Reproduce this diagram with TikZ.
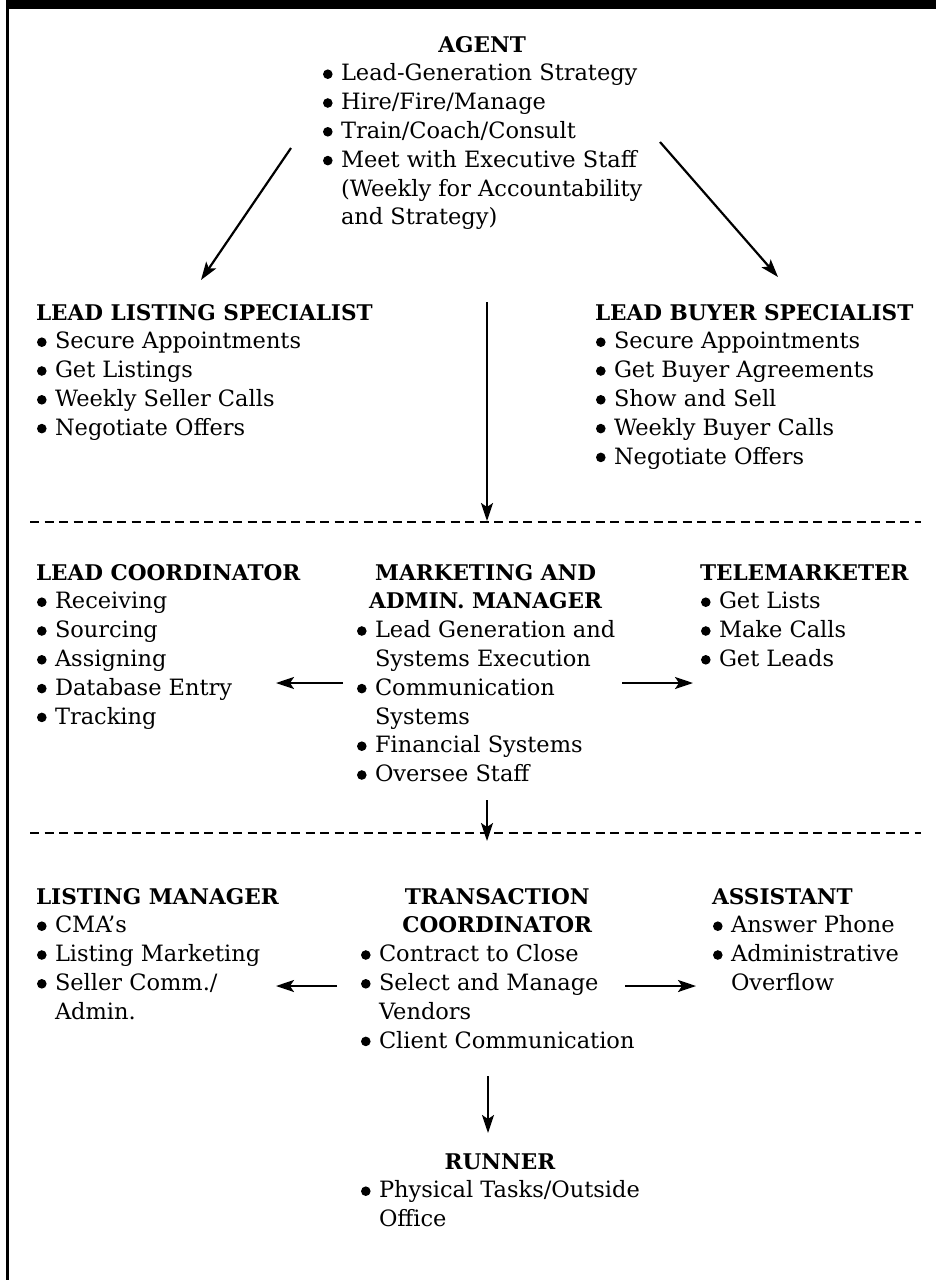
\documentclass[tikz,border=0pt]{standalone}
\usepackage{fontspec}
\setmainfont{DejaVu Serif}
\usetikzlibrary{arrows.meta}
\newcommand{\hd}[1]{{\fontsize{21.6}{28.8}\selectfont\bfseries #1}}
\newcommand{\bul}{\tikz[baseline=-6.6pt,x=1pt,y=1pt]\fill (0,0) circle [radius=4.8];}
\newcommand{\bi}[1]{\makebox[19pt][l]{\hspace*{1pt}\bul}#1}
\newcommand{\ci}[1]{\hspace*{19pt}#1}
\newcommand{\hc}[1]{\multicolumn{1}{@{}c@{}}{\hd{#1}}}
\begin{document}
\begin{tikzpicture}[x=1pt,y=-1pt,
  blk/.style={inner sep=0pt, outer sep=0pt, anchor=base west, font=\fontsize{22.5}{28.8}\selectfont},
  arr/.style={line width=2.2pt, -{Stealth[length=18pt,width=12pt,inset=4pt]}},
  sep line/.style={line width=2.2pt, dash pattern=on 9pt off 5.5pt}]
\useasboundingbox (0,0) rectangle (936,1280);
\fill (6,0) rectangle (936,9);
\fill (6,0) rectangle (8.5,1280);

% blocks
\node[blk] (agent) at (322,52) {\begin{tabular}[t]{@{}l@{}}
\hc{AGENT}\\
\bi{Lead-Generation Strategy}\\
\bi{Hire/Fire/Manage}\\
\bi{Train/Coach/Consult}\\
\bi{Meet with Executive Staff}\\
\ci{(Weekly for Accountability}\\
\ci{and Strategy)}
\end{tabular}};

\node[blk] (lls) at (36,320) {\begin{tabular}[t]{@{}l@{}}
\hd{LEAD LISTING SPECIALIST}\\
\bi{Secure Appointments}\\
\bi{Get Listings}\\
\bi{Weekly Seller Calls}\\
\bi{Negotiate Offers}
\end{tabular}};

\node[blk] (lbs) at (595,320) {\begin{tabular}[t]{@{}l@{}}
\hd{LEAD BUYER SPECIALIST}\\
\bi{Secure Appointments}\\
\bi{Get Buyer Agreements}\\
\bi{Show and Sell}\\
\bi{Weekly Buyer Calls}\\
\bi{Negotiate Offers}
\end{tabular}};

\node[blk] (lc) at (36,580) {\begin{tabular}[t]{@{}l@{}}
\hd{LEAD COORDINATOR}\\
\bi{Receiving}\\
\bi{Sourcing}\\
\bi{Assigning}\\
\bi{Database Entry}\\
\bi{Tracking}
\end{tabular}};

\node[blk] (mam) at (356,580) {\begin{tabular}[t]{@{}l@{}}
\hc{MARKETING AND}\\
\hc{ADMIN. MANAGER}\\
\bi{Lead Generation and}\\
\ci{Systems Execution}\\
\bi{Communication}\\
\ci{Systems}\\
\bi{Financial Systems}\\
\bi{Oversee Staff}
\end{tabular}};

\node[blk] (tm) at (700,580) {\begin{tabular}[t]{@{}l@{}}
\hd{TELEMARKETER}\\
\bi{Get Lists}\\
\bi{Make Calls}\\
\bi{Get Leads}
\end{tabular}};

\node[blk] (lm) at (36,904) {\begin{tabular}[t]{@{}l@{}}
\hd{LISTING MANAGER}\\
\bi{CMA’s}\\
\bi{Listing Marketing}\\
\bi{Seller Comm./}\\
\ci{Admin.}
\end{tabular}};

\node[blk] (tc) at (360,904) {\begin{tabular}[t]{@{}l@{}}
\hc{TRANSACTION}\\
\hc{COORDINATOR}\\
\bi{Contract to Close}\\
\bi{Select and Manage}\\
\ci{Vendors}\\
\bi{Client Communication}
\end{tabular}};

\node[blk] (as) at (712,904) {\begin{tabular}[t]{@{}l@{}}
\hd{ASSISTANT}\\
\bi{Answer Phone}\\
\bi{Administrative}\\
\ci{Overflow}
\end{tabular}};

\node[blk] (ru) at (360,1169) {\begin{tabular}[t]{@{}l@{}}
\hc{RUNNER}\\
\bi{Physical Tasks/Outside}\\
\ci{Office}
\end{tabular}};

% separators
\coordinate (s1a) at (30,522);
\coordinate (s1b) at (921,522);
\coordinate (s2a) at (30,833);
\coordinate (s2b) at (921,833);
\draw[sep line] (s1a) -- (s1b);
\draw[sep line] (s2a) -- (s2b);

% connector end points
\coordinate (a1s) at (291,148);
\coordinate (a1e) at (201,280);
\coordinate (a2s) at (660,142);
\coordinate (a2e) at (778,277);
\coordinate (a3s) at (487,302);
\coordinate (a3e) at (487,521);
\coordinate (a4s) at (343,683);
\coordinate (a4e) at (276,683);
\coordinate (a5s) at (622,683);
\coordinate (a5e) at (693,683);
\coordinate (a6s) at (487,800);
\coordinate (a6e) at (487,841);
\coordinate (a7s) at (337,986);
\coordinate (a7e) at (276,986);
\coordinate (a8s) at (625,986);
\coordinate (a8e) at (696,986);
\coordinate (a9s) at (488,1076);
\coordinate (a9e) at (488,1133);

\draw[arr] (a1s) -- (a1e);
\draw[arr] (a2s) -- (a2e);
\draw[arr] (a3s) -- (a3e);
\draw[arr] (a4s) -- (a4e);
\draw[arr] (a5s) -- (a5e);
\draw[arr] (a6s) -- (a6e);
\draw[arr] (a7s) -- (a7e);
\draw[arr] (a8s) -- (a8e);
\draw[arr] (a9s) -- (a9e);
\end{tikzpicture}
\end{document}
